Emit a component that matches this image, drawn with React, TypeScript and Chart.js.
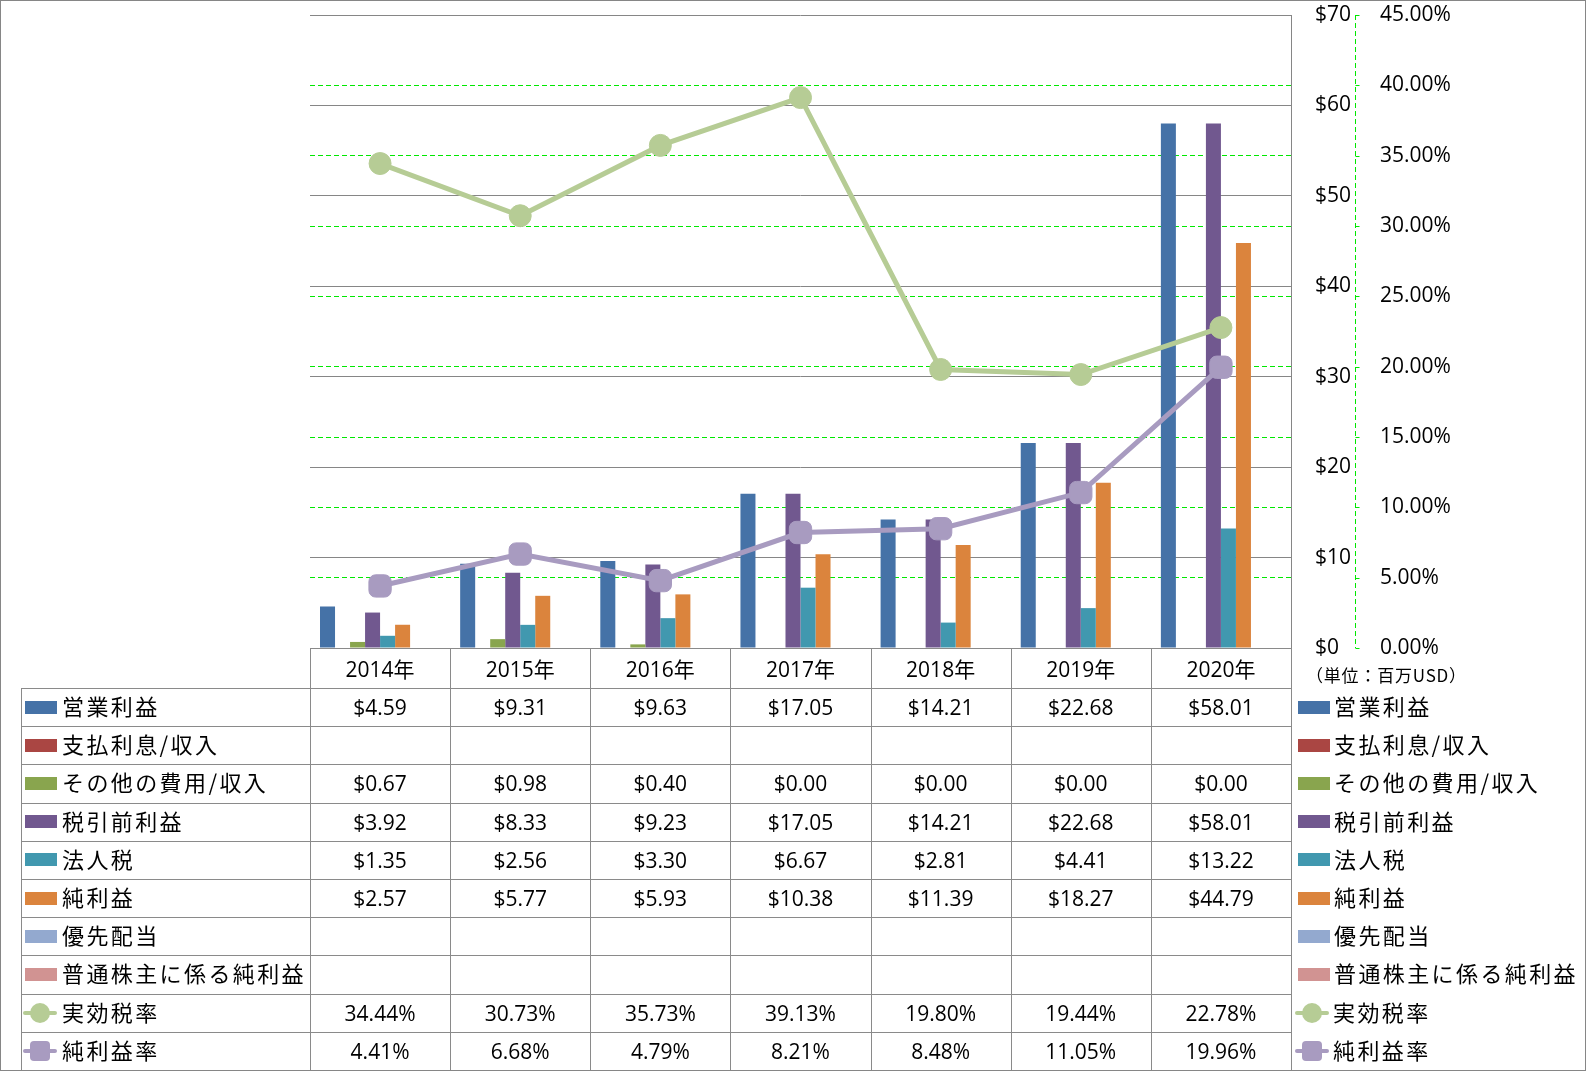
import React, { useEffect, useRef } from 'react';
import { Chart, registerables } from 'chart.js';

Chart.register(...registerables);

// ---------- data ----------
const categories = ['2014年', '2015年', '2016年', '2017年', '2018年', '2019年', '2020年'];
const operatingIncome = [4.59, 9.31, 9.63, 17.05, 14.21, 22.68, 58.01];
const interestExpense: (number | null)[] = [null, null, null, null, null, null, null];
const otherExpense = [0.67, 0.98, 0.4, 0.0, 0.0, 0.0, 0.0];
const pretaxIncome = [3.92, 8.33, 9.23, 17.05, 14.21, 22.68, 58.01];
const incomeTax = [1.35, 2.56, 3.3, 6.67, 2.81, 4.41, 13.22];
const netIncome = [2.57, 5.77, 5.93, 10.38, 11.39, 18.27, 44.79];
const preferredDividends: (number | null)[] = [null, null, null, null, null, null, null];
const netIncomeCommon: (number | null)[] = [null, null, null, null, null, null, null];
const effectiveTaxRate = [34.44, 30.73, 35.73, 39.13, 19.8, 19.44, 22.78];
const netMargin = [4.41, 6.68, 4.79, 8.21, 8.48, 11.05, 19.96];

const dollarAxis = { min: 0, max: 70, step: 10 };
const percentAxis = { min: 0, max: 45, step: 5 };
const unitLabel = '（単位：百万USD）';

// ---------- series config ----------
type Series = {
  name: string;
  kind: 'bar' | 'line';
  color: string;
  marker?: 'circle' | 'square';
  data: (number | null)[];
};

const barSeries: Series[] = [
  { name: '営業利益', kind: 'bar', color: '#4572A7', data: operatingIncome },
  { name: '支払利息/収入', kind: 'bar', color: '#AA4643', data: interestExpense },
  { name: 'その他の費用/収入', kind: 'bar', color: '#89A54E', data: otherExpense },
  { name: '税引前利益', kind: 'bar', color: '#71588F', data: pretaxIncome },
  { name: '法人税', kind: 'bar', color: '#4198AF', data: incomeTax },
  { name: '純利益', kind: 'bar', color: '#DB843D', data: netIncome },
  { name: '優先配当', kind: 'bar', color: '#93A9CF', data: preferredDividends },
  { name: '普通株主に係る純利益', kind: 'bar', color: '#D19392', data: netIncomeCommon },
];
const lineSeries: Series[] = [
  { name: '実効税率', kind: 'line', color: '#B6CC95', marker: 'circle', data: effectiveTaxRate },
  { name: '純利益率', kind: 'line', color: '#A89BC0', marker: 'square', data: netMargin },
];
const allSeries = [...barSeries, ...lineSeries];

// ---------- layout ----------
const W = 1586;
const H = 1071;
const PLOT_L = 310;
const PLOT_R = 1291;
const PLOT_T = 15;
const PLOT_B = 648;
const Y1_LEFT = 1355;
const TABLE_LEFT = 21;
const TABLE_TOP = 688;
const TABLE_BOTTOM = 1070;
const ROW_H = (TABLE_BOTTOM - TABLE_TOP) / allSeries.length;
const COL_W = (PLOT_R - PLOT_L) / categories.length;
const GRID_GRAY = '#868686';
const TABLE_GRAY = '#8a8a8a';
const GREEN = '#00e800';
const FONT = '"Open Sans", "Noto Sans CJK JP", sans-serif';
const JP_FONT = '"Noto Sans CJK JP", "Open Sans", sans-serif';

// dashed secondary axis line with short tick marks
const y1BorderPlugin = {
  id: 'y1DashedBorder',
  afterDraw(chart: any) {
    const s = chart.scales.y1;
    const ctx = chart.ctx;
    const x = Math.round(s.left) + 0.5;
    ctx.save();
    ctx.strokeStyle = GREEN;
    ctx.lineWidth = 1;
    ctx.setLineDash([5, 3]);
    ctx.beginPath();
    ctx.moveTo(x, s.top);
    ctx.lineTo(x, s.bottom);
    ctx.stroke();
    ctx.setLineDash([]);
    ctx.beginPath();
    s.ticks.forEach((t: any) => {
      const y = Math.round(s.getPixelForValue(t.value)) + 0.5;
      ctx.moveTo(x, y);
      ctx.lineTo(x + 4, y);
    });
    ctx.stroke();
    ctx.restore();
  },
};

function fmtValue(s: Series, v: number | null) {
  if (v === null || v === undefined) return '';
  return s.kind === 'bar' ? '$' + v.toFixed(2) : v.toFixed(2) + '%';
}

function Icon({ s }: { s: Series }) {
  if (s.kind === 'bar') {
    return <div style={{ width: 32, height: 13, background: s.color }} />;
  }
  return (
    <div style={{ position: 'relative', width: 34, height: 22 }}>
      <div
        style={{
          position: 'absolute',
          left: 0,
          top: 9,
          width: 34,
          height: 4,
          background: s.color,
          borderRadius: 2,
        }}
      />
      <div
        style={{
          position: 'absolute',
          left: 7,
          top: 1,
          width: 20,
          height: 20,
          background: s.color,
          borderRadius: s.marker === 'circle' ? '50%' : 4,
        }}
      />
    </div>
  );
}

export default function App() {
  const ref = useRef<HTMLCanvasElement>(null);

  useEffect(() => {
    const datasets: any[] = [
      ...lineSeries.map((s) => ({
        type: 'line',
        label: s.name,
        data: s.data,
        yAxisID: 'y1',
        order: 0,
        borderColor: s.color,
        borderWidth: 5,
        pointStyle: s.marker === 'circle' ? 'circle' : 'rectRounded',
        pointRadius: s.marker === 'circle' ? 11 : 13,
        pointBackgroundColor: s.color,
        pointBorderColor: s.color,
        pointBorderWidth: 1,
        tension: 0,
      })),
      ...barSeries.map((s) => ({
        type: 'bar',
        label: s.name,
        data: s.data,
        yAxisID: 'y',
        order: 1,
        backgroundColor: s.color,
        borderWidth: 0,
        categoryPercentage: 0.857,
        barPercentage: 1,
      })),
    ];

    const chart = new Chart(ref.current as HTMLCanvasElement, {
      type: 'bar',
      data: { labels: categories, datasets },
      plugins: [y1BorderPlugin],
      options: {
        animation: false,
        responsive: false,
        devicePixelRatio: 1,
        layout: { padding: { left: PLOT_L, top: PLOT_T, right: 0, bottom: H - PLOT_B } },
        plugins: { legend: { display: false }, tooltip: { enabled: false } },
        scales: {
          x: {
            type: 'category',
            offset: true,
            ticks: { display: false },
            grid: { display: false },
            border: { display: false },
            afterFit: (scale: any) => {
              scale.height = 0;
            },
          },
          y: {
            type: 'linear',
            position: 'right',
            weight: 0,
            min: dollarAxis.min,
            max: dollarAxis.max,
            ticks: {
              stepSize: dollarAxis.step,
              padding: 0,
              color: '#000',
              font: { family: FONT, size: 21 },
              callback: (v: any) => '$' + v,
            },
            grid: {
              color: GRID_GRAY,
              lineWidth: 1,
              drawTicks: true,
              tickLength: 24,
              tickColor: 'rgba(0,0,0,0)',
            },
            border: { display: true, color: GRID_GRAY, width: 1 },
            afterFit: (scale: any) => {
              scale.width = Y1_LEFT - PLOT_R;
            },
          },
          y1: {
            type: 'linear',
            position: 'right',
            weight: 1,
            min: percentAxis.min,
            max: percentAxis.max,
            ticks: {
              stepSize: percentAxis.step,
              padding: 0,
              color: '#000',
              font: { family: FONT, size: 21 },
              callback: (v: any) => Number(v).toFixed(2) + '%',
            },
            grid: {
              color: (ctx: any) =>
                ctx.tick && (ctx.tick.value === percentAxis.min || ctx.tick.value === percentAxis.max)
                  ? 'rgba(0,0,0,0)'
                  : GREEN,
              tickColor: 'rgba(0,0,0,0)',
              tickLength: 25,
              lineWidth: 1,
            },
            border: { display: false, dash: [5, 3] },
            afterFit: (scale: any) => {
              scale.width = W - Y1_LEFT;
            },
          },
        },
      } as any,
    });
    return () => chart.destroy();
  }, []);

  const hLines: React.ReactNode[] = [];
  const vLines: React.ReactNode[] = [];
  const texts: React.ReactNode[] = [];

  hLines.push(
    <div key="htop" style={{ position: 'absolute', left: PLOT_L, top: PLOT_B, width: PLOT_R - PLOT_L + 1, height: 1, background: TABLE_GRAY }} />
  );
  for (let i = 0; i <= allSeries.length; i++) {
    const y = Math.round(TABLE_TOP + i * ROW_H);
    hLines.push(
      <div key={'h' + i} style={{ position: 'absolute', left: TABLE_LEFT, top: y, width: PLOT_R - TABLE_LEFT + 1, height: 1, background: TABLE_GRAY }} />
    );
  }
  vLines.push(
    <div key="vl" style={{ position: 'absolute', left: TABLE_LEFT, top: TABLE_TOP, width: 1, height: TABLE_BOTTOM - TABLE_TOP, background: TABLE_GRAY }} />
  );
  for (let c = 0; c <= categories.length; c++) {
    const x = Math.round(PLOT_L + c * COL_W);
    vLines.push(
      <div key={'v' + c} style={{ position: 'absolute', left: x, top: PLOT_B, width: 1, height: TABLE_BOTTOM - PLOT_B, background: TABLE_GRAY }} />
    );
  }

  categories.forEach((cat, c) => {
    texts.push(
      <div
        key={'cat' + c}
        style={{
          position: 'absolute',
          left: PLOT_L + c * COL_W,
          top: PLOT_B,
          width: COL_W,
          height: TABLE_TOP - PLOT_B,
          display: 'flex',
          alignItems: 'center',
          justifyContent: 'center',
          fontSize: 21,
          color: '#000',
        }}
      >
        {cat}
      </div>
    );
  });

  const labelStyle: React.CSSProperties = {
    fontFamily: JP_FONT,
    fontSize: 22,
    letterSpacing: 2.4,
    color: '#000',
    position: 'relative',
    top: -2,
  };

  allSeries.forEach((s, r) => {
    const top = TABLE_TOP + r * ROW_H;
    texts.push(
      <div
        key={'lab' + r}
        style={{ position: 'absolute', left: 23, top, height: ROW_H, display: 'flex', alignItems: 'center' }}
      >
        <div style={{ width: 36, paddingLeft: s.kind === 'bar' ? 2 : 0 }}>
          <Icon s={s} />
        </div>
        <span style={{ ...labelStyle, marginLeft: s.kind === 'bar' ? 1 : 3 }}>{s.name}</span>
      </div>
    );
    texts.push(
      <div
        key={'leg' + r}
        style={{ position: 'absolute', left: 1295, top, height: ROW_H, display: 'flex', alignItems: 'center' }}
      >
        <div style={{ width: 36, paddingLeft: s.kind === 'bar' ? 3 : 0 }}>
          <Icon s={s} />
        </div>
        <span style={{ ...labelStyle, marginLeft: s.kind === 'bar' ? 0 : 2 }}>{s.name}</span>
      </div>
    );
    s.data.forEach((v, c) => {
      const t = fmtValue(s, v);
      if (!t) return;
      texts.push(
        <div
          key={'val' + r + '_' + c}
          style={{
            position: 'absolute',
            left: PLOT_L + c * COL_W,
            top,
            width: COL_W,
            height: ROW_H,
            display: 'flex',
            alignItems: 'center',
            justifyContent: 'center',
            fontSize: 21,
            color: '#000',
          }}
        >
          {t}
        </div>
      );
    });
  });

  return (
    <div
      style={{
        position: 'fixed',
        left: 0,
        top: 0,
        width: W,
        height: H,
        background: '#fff',
        overflow: 'hidden',
        fontFamily: FONT,
      }}
    >
      <canvas ref={ref} width={W} height={H} style={{ position: 'absolute', left: 0, top: 0, width: W, height: H }} />
      {hLines}
      {vLines}
      {texts}
      <div
        style={{
          position: 'absolute',
          left: 1306,
          top: 663,
          fontFamily: JP_FONT,
          fontSize: 17,
          letterSpacing: 0.8,
          lineHeight: '24px',
          color: '#000',
          whiteSpace: 'nowrap',
        }}
      >
        {unitLabel}
      </div>
      <div
        style={{
          position: 'absolute',
          left: 0,
          top: 0,
          width: W,
          height: H,
          border: '1px solid ' + GRID_GRAY,
          boxSizing: 'border-box',
          pointerEvents: 'none',
        }}
      />
    </div>
  );
}
